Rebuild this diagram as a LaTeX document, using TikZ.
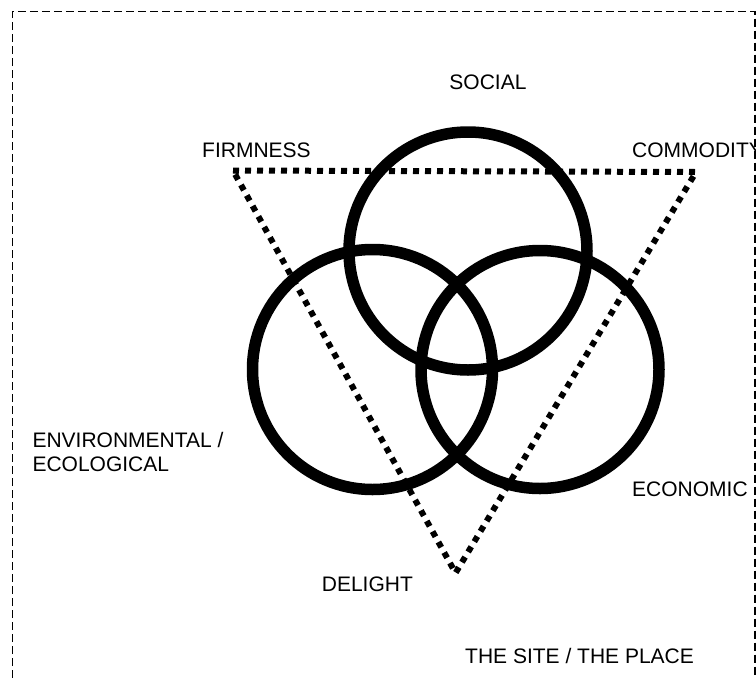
\documentclass[tikz,border=0pt]{standalone}
\usepackage{fontspec}
\setmainfont{Liberation Sans}
\begin{document}
\begin{tikzpicture}[x=1pt,y=-1pt,
  ring/.style={draw=black,line width=11.5pt},
  dotline/.style={draw=black,line width=6pt,dash pattern=on 6pt off 6pt,line cap=butt,line join=miter},
  frame/.style={draw=black,line width=1.3pt,dash pattern=on 8pt off 4pt},
  lbl/.style={font=\fontsize{21}{24}\selectfont,inner sep=0pt,anchor=base west,align=left}]
\useasboundingbox (0,0) rectangle (756,678);
\clip (0,0) rectangle (756,678);
% frame
\coordinate (fbl) at (12.5,690);
\coordinate (ftl) at (12.5,11.5);
\coordinate (ftr) at (755,11.5);
\coordinate (fbr) at (755,690);
\draw[frame] (fbl) -- (ftl) -- (ftr) -- (fbr);
% circles
\node[ring,circle,minimum size=238pt,inner sep=0pt] (social) at (468,251) {};
\node[ring,circle,minimum size=240pt,inner sep=0pt] (env) at (372.5,369.5) {};
\node[ring,circle,minimum size=238pt,inner sep=0pt] (econ) at (540,369.5) {};
% triangle
\coordinate (tf) at (233,170.5);
\coordinate (tc) at (696,172);
\coordinate (td) at (455.5,573);
\draw[dotline] (tf) -- (tc) -- (td) -- cycle;
% labels
\node[lbl,anchor=base] (lsocial) at (488,89) {SOCIAL};
\node[lbl] (lfirm) at (202,157.5) {FIRMNESS};
\node[lbl] (lcomm) at (632,157.5) {COMMODITY};
\node[lbl] (lenv1) at (32.3,447.7) {ENVIRONMENTAL /};
\node[lbl] (lenv2) at (32.3,471.7) {ECOLOGICAL};
\node[lbl] (lecon) at (632,496) {ECONOMIC};
\node[lbl] (ldel) at (321.7,591.7) {DELIGHT};
\node[lbl] (lsite) at (465,663.3) {THE SITE / THE PLACE};
\end{tikzpicture}
\end{document}
